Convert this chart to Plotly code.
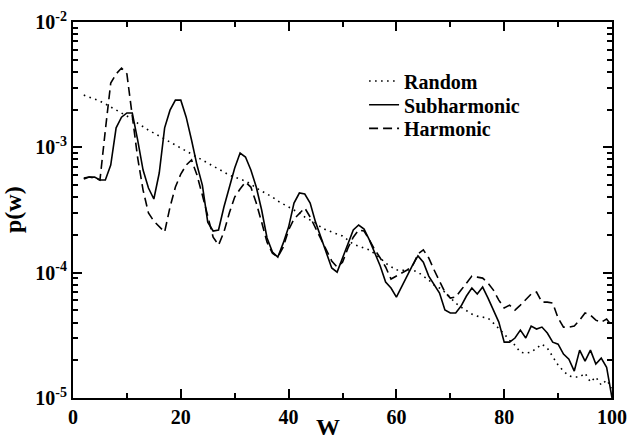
import plotly.graph_objects as go

w = list(range(2, 101))

random_p = [2.61e-3, 2.52e-3, 2.43e-3, 2.34e-3, 2.22e-3, 2.10e-3, 1.98e-3, 1.88e-3, 1.78e-3, 1.68e-3,
            1.56e-3, 1.45e-3, 1.37e-3, 1.30e-3, 1.23e-3, 1.16e-3, 1.10e-3, 1.04e-3, 9.87e-4, 9.34e-4,
            8.84e-4, 8.37e-4, 7.92e-4, 7.49e-4, 7.09e-4, 6.71e-4, 6.35e-4, 6.01e-4, 5.79e-4, 5.58e-4,
            5.38e-4, 5.09e-4, 4.73e-4, 4.48e-4, 4.24e-4, 4.01e-4, 3.73e-4, 3.53e-4, 3.34e-4, 3.16e-4,
            2.99e-4, 2.78e-4, 2.63e-4, 2.49e-4, 2.31e-4, 2.19e-4, 2.11e-4, 2.03e-4, 1.96e-4, 1.82e-4,
            1.69e-4, 1.63e-4, 1.57e-4, 1.52e-4, 1.41e-4, 1.31e-4, 1.19e-4, 1.11e-4, 1.05e-4, 1.05e-4,
            1.03e-4, 1.05e-4, 1.01e-4, 9.39e-5, 8.73e-5, 7.96e-5, 7.54e-5, 7.0e-5, 6.27e-5, 5.72e-5,
            5.31e-5, 4.94e-5, 4.67e-5, 4.50e-5, 4.42e-5, 4.34e-5, 3.96e-5, 3.61e-5, 3.24e-5, 2.90e-5,
            2.64e-5, 2.32e-5, 2.28e-5, 2.32e-5, 2.50e-5, 2.69e-5, 2.50e-5, 2.12e-5, 1.83e-5, 1.64e-5,
            1.50e-5, 1.47e-5, 1.47e-5, 1.58e-5, 1.34e-5, 1.47e-5, 1.27e-5, 1.39e-5, 1.20e-5]

subharmonic_p = [5.58e-4, 5.79e-4, 5.79e-4, 5.48e-4, 5.48e-4, 7.22e-4, 1.43e-3, 1.74e-3, 1.88e-3, 1.88e-3,
                 1.14e-3, 6.59e-4, 4.73e-4, 3.87e-4, 6.24e-4, 1.43e-3, 1.98e-3, 2.38e-3, 2.38e-3, 1.74e-3,
                 1.14e-3, 7.22e-4, 5.0e-4, 2.53e-4, 2.15e-4, 2.19e-4, 3.34e-4, 4.73e-4, 6.84e-4, 9.0e-4,
                 8.37e-4, 6.59e-4, 4.82e-4, 3.16e-4, 1.89e-4, 1.46e-4, 1.33e-4, 1.72e-4, 2.31e-4, 3.59e-4,
                 4.32e-4, 4.24e-4, 3.59e-4, 2.53e-4, 1.92e-4, 1.43e-4, 1.09e-4, 1.01e-4, 1.31e-4, 1.75e-4,
                 2.19e-4, 2.40e-4, 2.23e-4, 1.82e-4, 1.43e-4, 1.13e-4, 8.41e-5, 7.54e-5, 6.39e-5, 7.82e-5,
                 9.57e-5, 1.15e-4, 1.36e-4, 1.21e-4, 9.39e-5, 7.96e-5, 6.87e-5, 5.03e-5, 4.76e-5, 4.76e-5,
                 5.41e-5, 6.51e-5, 7.54e-5, 6.75e-5, 7.68e-5, 6.27e-5, 5.03e-5, 4.03e-5, 2.79e-5, 2.79e-5,
                 3.01e-5, 3.48e-5, 3.01e-5, 3.75e-5, 3.55e-5, 3.68e-5, 3.30e-5, 2.79e-5, 2.69e-5, 2.24e-5,
                 2.04e-5, 1.64e-5, 2.41e-5, 1.97e-5, 2.41e-5, 1.87e-5, 2.08e-5, 1.76e-5, 1.0e-5]

harmonic_p = [5.69e-4, 5.79e-4, 5.69e-4, 5.48e-4, 1.37e-3, 3.26e-3, 3.85e-3, 4.29e-3, 3.85e-3, 1.74e-3,
              8.22e-4, 4.56e-4, 2.99e-4, 2.58e-4, 2.31e-4, 2.11e-4, 3.34e-4, 4.82e-4, 6.12e-4, 7.22e-4,
              7.92e-4, 6.01e-4, 4.16e-4, 2.78e-4, 1.92e-4, 1.66e-4, 2.11e-4, 2.99e-4, 4.01e-4, 4.65e-4,
              5.28e-4, 4.82e-4, 3.59e-4, 2.53e-4, 1.75e-4, 1.43e-4, 1.33e-4, 1.60e-4, 2.19e-4, 2.68e-4,
              2.99e-4, 3.28e-4, 2.78e-4, 2.27e-4, 1.89e-4, 1.54e-4, 1.24e-4, 1.11e-4, 1.21e-4, 1.57e-4,
              1.92e-4, 2.19e-4, 2.15e-4, 1.82e-4, 1.52e-4, 1.31e-4, 1.11e-4, 8.89e-5, 9.39e-5, 9.93e-5,
              1.05e-4, 1.13e-4, 1.41e-4, 1.52e-4, 1.31e-4, 1.05e-4, 8.57e-5, 7.0e-5, 6.27e-5, 6.39e-5,
              7.26e-5, 8.26e-5, 9.39e-5, 9.22e-5, 9.05e-5, 8.26e-5, 7.26e-5, 6.04e-5, 5.22e-5, 5.51e-5,
              5.03e-5, 5.51e-5, 6.15e-5, 6.75e-5, 7.0e-5, 5.82e-5, 5.82e-5, 5.72e-5, 4.34e-5, 3.68e-5,
              3.68e-5, 3.75e-5, 4.18e-5, 4.76e-5, 4.59e-5, 4.18e-5, 4.03e-5, 4.26e-5, 3.75e-5]

series_names = ["Random", "Subharmonic", "Harmonic"]
x_ticks = [0, 20, 40, 60, 80, 100]
y_ticks = [1e-5, 1e-4, 1e-3, 1e-2]
y_tick_labels = ["<b>10<sup>-5</sup></b>", "<b>10<sup>-4</sup></b>",
                 "<b>10<sup>-3</sup></b>", "<b>10<sup>-2</sup></b>"]

FONT = "Liberation Serif"

fig = go.Figure()
fig.add_trace(go.Scatter(x=w, y=random_p, mode="lines", name="<b>" + series_names[0] + "</b>",
                         legend="legend",
                         line=dict(color="black", width=1.6, dash="1.6px,4.4px")))
fig.add_trace(go.Scatter(x=w, y=subharmonic_p, mode="lines", name="<b>" + series_names[1] + "</b>",
                         legend="legend2",
                         line=dict(color="black", width=1.6)))
fig.add_trace(go.Scatter(x=w, y=harmonic_p, mode="lines", name="<b>" + series_names[2] + "</b>",
                         legend="legend3",
                         line=dict(color="black", width=1.6, dash="9px,5px")))

minor_y = [m * 10 ** e for e in range(-5, -2) for m in range(2, 10)]

leg_common = dict(x=0.540, xanchor="left", yanchor="middle", bgcolor="rgba(0,0,0,0)",
                  font=dict(family=FONT, size=20, color="black"), itemwidth=30)

fig.update_layout(
    width=631, height=440,
    margin=dict(l=73, r=19, t=22, b=42, autoexpand=False),
    paper_bgcolor="white", plot_bgcolor="white",
    font=dict(family=FONT, color="black", size=20),
    showlegend=True,
    legend=dict(y=0.843, **leg_common),
    legend2=dict(y=0.780, **leg_common),
    legend3=dict(y=0.717, **leg_common),
    annotations=[
        dict(text="<b>W</b>", xref="paper", yref="paper", x=(328 - 73) / 539, y=-0.078,
             xanchor="center", yanchor="middle", showarrow=False,
             font=dict(family=FONT, size=24, color="black")),
        dict(text="<b>p(w)</b>", xref="paper", yref="paper", x=(13 - 73) / 539, y=(398 - 210) / 376,
             xanchor="center", yanchor="middle", showarrow=False, textangle=-90,
             font=dict(family=FONT, size=24, color="black")),
    ],
)

fig.update_xaxes(
    range=[0, 100], tickmode="array", tickvals=x_ticks,
    ticktext=["<b>%d</b>" % v for v in x_ticks],
    ticks="inside", ticklen=9, tickwidth=1.5, tickcolor="black",
    minor=dict(ticks="inside", ticklen=5, tickwidth=1.5, tickcolor="black", dtick=10, showgrid=False),
    showline=True, linewidth=2, linecolor="black", mirror="allticks",
    showgrid=False, zeroline=False, automargin=False,
    tickfont=dict(family=FONT, size=20, color="black"),
)

fig.update_yaxes(
    type="log", range=[-5, -2], tickmode="array", tickvals=y_ticks, ticktext=y_tick_labels,
    ticks="inside", ticklen=9, tickwidth=1.5, tickcolor="black",
    minor=dict(ticks="inside", ticklen=5, tickwidth=1.5, tickcolor="black",
               tickmode="array", tickvals=minor_y, showgrid=False),
    showline=True, linewidth=2, linecolor="black", mirror="allticks",
    showgrid=False, zeroline=False, automargin=False,
    tickfont=dict(family=FONT, size=20, color="black"),
)

fig.write_html("out.html")
